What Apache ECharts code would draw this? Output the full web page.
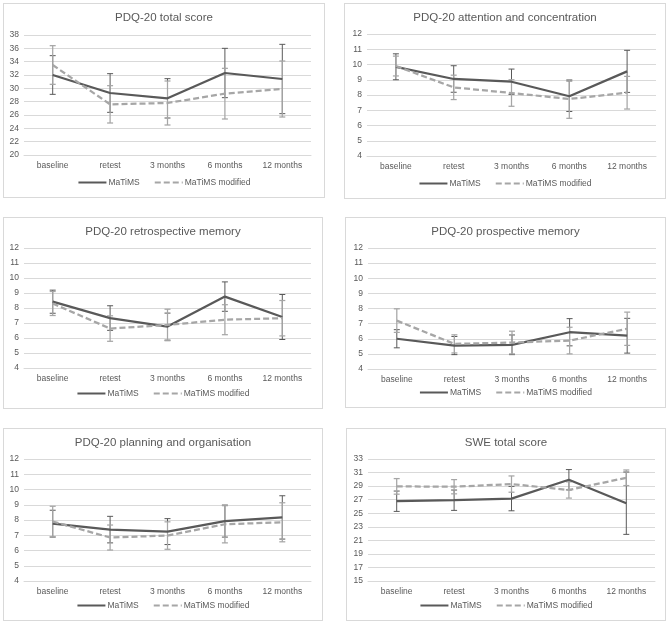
<!DOCTYPE html>
<html>
<head>
<meta charset="utf-8">
<script src="https://cdn.jsdelivr.net/npm/echarts@6/dist/echarts.min.js"></script>
<style>
  body { margin: 0; background: #fff; }
  .panel { position: absolute; border: 1px solid #d9d9d9; box-sizing: border-box; background: #fff; }
</style>
</head>
<body>
<div class="panel" id="p1" style="left:3px;top:3px;width:322px;height:195px"></div>
<div class="panel" id="p2" style="left:344px;top:3px;width:322px;height:196px"></div>
<div class="panel" id="p3" style="left:3px;top:217px;width:320px;height:192px"></div>
<div class="panel" id="p4" style="left:345px;top:217px;width:321px;height:191px"></div>
<div class="panel" id="p5" style="left:3px;top:428px;width:320px;height:193px"></div>
<div class="panel" id="p6" style="left:346px;top:428px;width:320px;height:193px"></div>
<script>
const categories = ['baseline', 'retest', '3 months', '6 months', '12 months'];

// PDQ-20 total score
const totalMat = [32.0, 29.3, 28.5, 32.3, 31.4];
const totalMatErr = [2.9, 2.9, 2.95, 3.7, 5.2];
const totalMod = [33.5, 27.6, 27.8, 29.2, 29.9];
const totalModErr = [2.9, 2.8, 3.3, 3.8, 4.2];

// attention and concentration
const attMat = [9.85, 9.05, 8.87, 7.92, 9.55];
const attMatErr = [0.85, 0.87, 0.83, 1.0, 1.38];
const attMod = [9.9, 8.5, 8.13, 7.74, 8.15];
const attModErr = [0.65, 0.8, 0.87, 1.27, 1.07];

// retrospective memory
const retroMat = [8.42, 7.33, 6.76, 8.76, 7.4];
const retroMatErr = [0.77, 0.82, 0.9, 0.98, 1.5];
const retroMod = [8.3, 6.63, 6.87, 7.22, 7.32];
const retroModErr = [0.8, 0.85, 1.05, 1.0, 1.18];

// prospective memory
const prosMat = [6.0, 5.55, 5.6, 6.43, 6.2];
const prosMatErr = [0.6, 0.6, 0.65, 0.9, 1.15];
const prosMod = [7.2, 5.66, 5.75, 5.88, 6.66];
const prosModErr = [0.78, 0.6, 0.75, 0.88, 1.1];

// planning and organisation
const planMat = [7.76, 7.37, 7.24, 7.93, 8.17];
const planMatErr = [0.88, 0.87, 0.85, 1.05, 1.42];
const planMod = [7.9, 6.85, 6.98, 7.72, 7.85];
const planModErr = [1.0, 0.82, 0.9, 1.22, 1.28];

// SWE total score
const sweMat = [26.77, 26.92, 27.16, 29.94, 26.48];
const sweMatErr = [1.5, 1.5, 1.8, 1.5, 4.6];
const sweMod = [28.96, 28.91, 29.3, 28.43, 30.23];
const sweModErr = [1.15, 1.05, 1.2, 1.2, 1.15];

const FONT = 'Liberation Sans, Arial, sans-serif';
const TXT = '#595959';
const DARK = '#595959';
const LIGHT = '#a6a6a6';

function errSeries(vals, errs, color, width) {
  return {
    type: 'custom',
    name: 'err',
    silent: true,
    z: 3,
    encode: { x: 0, y: 1 },
    data: vals.map((v, i) => [i, v, errs[i]]),
    renderItem: function (params, api) {
      const x = api.value(0), m = api.value(1), e = api.value(2);
      const top = api.coord([x, m + e]);
      const bot = api.coord([x, m - e]);
      const st = { stroke: color, lineWidth: width };
      const c = 3;
      return {
        type: 'group',
        children: [
          { type: 'line', shape: { x1: top[0], y1: top[1], x2: bot[0], y2: bot[1] }, style: st },
          { type: 'line', shape: { x1: top[0] - c, y1: top[1], x2: top[0] + c, y2: top[1] }, style: st },
          { type: 'line', shape: { x1: bot[0] - c, y1: bot[1], x2: bot[0] + c, y2: bot[1] }, style: st }
        ]
      };
    }
  };
}

function makePanel(id, title, mat, matErr, mod, modErr, yMin, yMax, yStep, grid) {
  const chart = echarts.init(document.getElementById(id));
  chart.setOption({
    animation: false,
    textStyle: { fontFamily: FONT },
    title: {
      text: title,
      left: 'center',
      top: 3,
      textStyle: { fontSize: 11.5, fontWeight: 'normal', color: TXT, fontFamily: FONT }
    },
    legend: {
      data: ['MaTiMS', 'MaTiMS modified'],
      bottom: 5,
      left: 'center',
      itemWidth: 28,
      itemHeight: 8,
      itemGap: 14,
      itemStyle: { opacity: 0 },
      textStyle: { fontSize: 8.5, color: TXT, fontFamily: FONT, padding: [0, 0, 0, -3] }
    },
    grid: grid,
    xAxis: {
      type: 'category',
      data: categories,
      boundaryGap: true,
      axisLine: { lineStyle: { color: '#d9d9d9' } },
      axisTick: { show: false },
      axisLabel: { fontSize: 8.5, color: TXT, fontFamily: FONT, margin: 6 }
    },
    yAxis: {
      type: 'value',
      min: yMin,
      max: yMax,
      interval: yStep,
      axisLine: { show: false },
      axisTick: { show: false },
      splitLine: { lineStyle: { color: '#d9d9d9' } },
      axisLabel: { fontSize: 8.5, color: TXT, fontFamily: FONT, margin: 5 }
    },
    series: [
      {
        name: 'MaTiMS',
        type: 'line',
        data: mat,
        symbol: 'none',
        z: 4,
        lineStyle: { color: DARK, width: 2.25 },
        itemStyle: { color: DARK }
      },
      {
        name: 'MaTiMS modified',
        type: 'line',
        data: mod,
        symbol: 'none',
        z: 4,
        lineStyle: { color: LIGHT, width: 2.25, type: [6, 3] },
        itemStyle: { color: LIGHT }
      },
      errSeries(mat, matErr, DARK, 1),
      errSeries(mod, modErr, LIGHT, 1.25)
    ]
  });
}

makePanel('p1', 'PDQ-20 total score', totalMat, totalMatErr, totalMod, totalModErr, 20, 38, 2,
  { left: 20, right: 13, top: 31, bottom: 42 });
makePanel('p2', 'PDQ-20 attention and concentration', attMat, attMatErr, attMod, attModErr, 4, 12, 1,
  { left: 22, right: 9, top: 30, bottom: 42 });
makePanel('p3', 'PDQ-20 retrospective memory', retroMat, retroMatErr, retroMod, retroModErr, 4, 12, 1,
  { left: 20, right: 11, top: 30, bottom: 40 });
makePanel('p4', 'PDQ-20 prospective memory', prosMat, prosMatErr, prosMod, prosModErr, 4, 12, 1,
  { left: 22, right: 9, top: 30, bottom: 38 });
makePanel('p5', 'PDQ-20 planning and organisation', planMat, planMatErr, planMod, planModErr, 4, 12, 1,
  { left: 20, right: 11, top: 30, bottom: 39 });
makePanel('p6', 'SWE total score', sweMat, sweMatErr, sweMod, sweModErr, 15, 33, 2,
  { left: 21, right: 10, top: 30, bottom: 39 });
</script>
</body>
</html>
